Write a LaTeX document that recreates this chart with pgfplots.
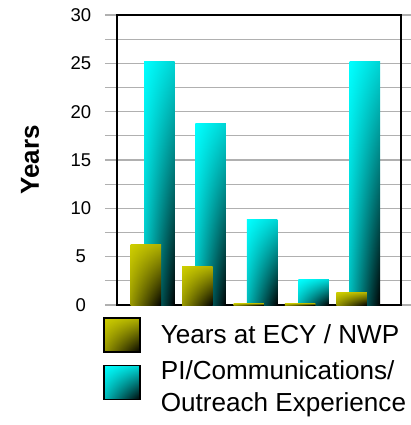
\documentclass[border=0pt]{standalone}
\usepackage{fontspec}
\setmainfont{Liberation Sans}
\usepackage{pgfplots}
\pgfplotsset{compat=1.18}
\usetikzlibrary{shadings}
\definecolor{ylw}{RGB}{206,206,0}
\definecolor{ylwR}{RGB}{176,176,0}
\definecolor{ylwL}{RGB}{150,150,0}
\definecolor{cyR}{RGB}{0,212,212}
\definecolor{cyL}{RGB}{0,185,185}
\definecolor{gridgray}{RGB}{176,176,176}
\tikzset{
  cyshade/.style={shading=bilinear interpolation, upper left=cyan, upper right=cyR, lower left=cyL, lower right=black},
  ylshade/.style={shading=bilinear interpolation, upper left=ylw, upper right=ylwR, lower left=ylwL, lower right=black},
}
\pgfplotsset{
  cybar/.style={ybar, bar width=0.593, bar shift=0pt, draw=none, cyshade,
    legend image code/.code={\draw[line width=1.6pt, draw=black, cyshade] (0pt,-13pt) rectangle (36pt,21pt);}},
  ylbar/.style={ybar, bar width=0.593, bar shift=0pt, draw=none, ylshade,
    legend image code/.code={\draw[line width=1.6pt, draw=black, ylshade] (0pt,-17pt) rectangle (36pt,17pt);}},
}
\begin{document}
\begin{tikzpicture}
\useasboundingbox (-117pt,-120pt) rectangle (293pt,305pt);
\begin{axis}[
  scale only axis,
  width=284pt, height=290pt,
  at={(0pt,0pt)}, anchor=origin,
  xmin=0.307, xmax=5.832,
  ymin=0, ymax=30,
  xtick=\empty,
  ytick={0,5,...,30},
  minor ytick={2.5,7.5,...,27.5},
  grid=both,
  major grid style={gridgray, line width=1.1pt},
  minor grid style={gridgray, line width=1.1pt},
  tick align=outside,
  major tick length=12pt, minor tick length=12pt,
  every tick/.style={gridgray, line width=1.1pt},
  axis line style={black, line width=1.4pt},
  /pgf/number format/assume math mode=true,
  yticklabel style={font=\fontsize{18.5}{20}\selectfont, text width=30pt, align=center, inner sep=0pt, xshift=-9pt},
  ylabel={\textbf{Years}},
  every axis y label/.style={at={(axis description cs:-0.306,0.5)}, rotate=90, anchor=center, font=\fontsize{26}{28}\selectfont},
  reverse legend,
  legend cell align=left,
  legend style={draw=none, fill=none, at={(axis description cs:-0.049,-0.041)}, anchor=north west, inner sep=0pt,
    font=\fontsize{26.1}{31.5}\selectfont, nodes={align=left, inner sep=0pt}, row sep=8pt,
    /tikz/every odd column/.append style={column sep=20pt}},
]
% PI/Communications/Outreach Experience (drawn behind)
\addplot[cybar] coordinates {(1.13,25.2)};
\addlegendentry{PI/Communications/\\Outreach Experience}
\addplot[cybar, forget plot] coordinates {(2.13,18.8)};
\addplot[cybar, forget plot] coordinates {(3.13,8.8)};
\addplot[cybar, forget plot] coordinates {(4.13,2.6)};
\addplot[cybar, forget plot] coordinates {(5.13,25.2)};
% Years at ECY / NWP (in front)
\addplot[ylbar] coordinates {(0.87,6.3)};
\addlegendentry{Years at ECY / NWP}
\addplot[ylbar, forget plot] coordinates {(1.87,4.0)};
\addplot[ylbar, forget plot] coordinates {(2.87,0.2)};
\addplot[ylbar, forget plot] coordinates {(3.87,0.2)};
\addplot[ylbar, forget plot] coordinates {(4.87,1.3)};
\end{axis}
\end{tikzpicture}
\end{document}
